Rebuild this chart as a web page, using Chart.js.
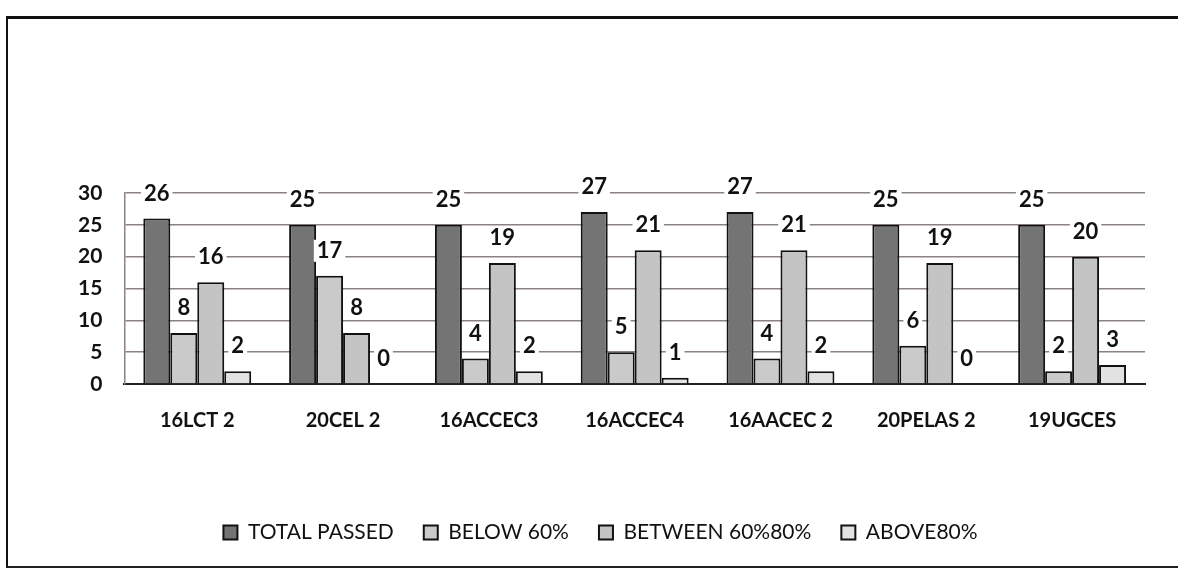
<!DOCTYPE html>
<html>
<head>
<meta charset="utf-8">
<script src="https://cdn.jsdelivr.net/npm/chart.js@4.4.1/dist/chart.umd.min.js"></script>
<style>
    html, body { margin: 0; padding: 0; background: #fff; overflow: hidden; }
    .wrap { position: relative; width: 1178px; height: 574px; }
    .frame {
        position: absolute; left: 6px; top: 16px; width: 1200px; height: 552px;
        border-left: 2px solid #111; border-top: 3px solid #111; border-bottom: 2px solid #222;
        box-sizing: border-box;
    }
    canvas { position: absolute; left: 0; top: 0; }
</style>
</head>
<body>
<div class="wrap">
    <div class="frame"></div>
    <canvas id="chart" width="1178" height="574"></canvas>
</div>
<script>
const categories = ['16LCT 2', '20CEL 2', '16ACCEC3', '16ACCEC4', '16AACEC 2', '20PELAS 2', '19UGCES'];
const totalPassed = [26, 25, 25, 27, 27, 25, 25];
const below60 = [8, 17, 4, 5, 4, 6, 2];
const between60and80 = [16, 8, 19, 21, 21, 19, 20];
const above80 = [2, 0, 2, 1, 2, 0, 3];
const yTicks = [0, 5, 10, 15, 20, 25, 30];

const font = 'Lato, "Open Sans", sans-serif';

// numbers above the bars, on a white patch so the grid lines break round them
const valueLabels = {
    id: 'valueLabels',
    afterDatasetsDraw(chart) {
        const ctx = chart.ctx;
        ctx.save();
        ctx.font = 'bold 22px ' + font;
        ctx.textAlign = 'center';
        ctx.textBaseline = 'middle';
        chart.data.datasets.forEach((ds, i) => {
            chart.getDatasetMeta(i).data.forEach((bar, j) => {
                const txt = String(ds.data[j]);
                const w = ctx.measureText(txt).width;
                const y = bar.y - 25;
                ctx.fillStyle = '#fff';
                ctx.fillRect(bar.x - w / 2 - 3, y - 11, w + 6, 22);
                ctx.fillStyle = '#111';
                ctx.fillText(txt, bar.x, y);
            });
        });
        ctx.restore();
    }
};

const ctx = document.getElementById('chart').getContext('2d');
new Chart(ctx, {
    type: 'bar',
    data: {
        labels: categories,
        datasets: [
            { label: 'TOTAL PASSED', data: totalPassed, backgroundColor: '#747474' },
            { label: 'BELOW 60%', data: below60, backgroundColor: '#cacaca' },
            { label: 'BETWEEN 60%80%', data: between60and80, backgroundColor: '#c4c4c4' },
            { label: 'ABOVE80%', data: above80, backgroundColor: '#e2e2e2' }
        ].map(d => Object.assign(d, { borderColor: '#111', borderWidth: 2, borderSkipped: 'bottom' }))
    },
    options: {
        responsive: false,
        animation: false,
        categoryPercentage: 0.74,
        barPercentage: 1,
        layout: { padding: { top: 193, left: 56, right: 33, bottom: 21 } },
        plugins: {
            tooltip: { enabled: false },
            legend: {
                position: 'bottom',
                labels: {
                    color: '#111',
                    font: { family: font, size: 21 },
                    boxWidth: 14,
                    boxHeight: 14,
                    padding: 30
                }
            }
        },
        scales: {
            x: {
                grid: { display: false },
                border: { color: '#222', width: 2 },
                ticks: { color: '#111', font: { family: font, size: 20, weight: 'bold' }, padding: 17 },
                afterFit(scale) { scale.height = 108; }
            },
            y: {
                min: 0,
                max: 30,
                afterBuildTicks(scale) { scale.ticks = yTicks.map(v => ({ value: v })); },
                grid: { color: '#8c8282', lineWidth: 1.5, drawTicks: false },
                border: { color: '#8c8282', width: 1.5 },
                ticks: { color: '#111', font: { family: font, size: 21, weight: 'bold' }, padding: 22 }
            }
        }
    },
    plugins: [valueLabels]
});
</script>
</body>
</html>
